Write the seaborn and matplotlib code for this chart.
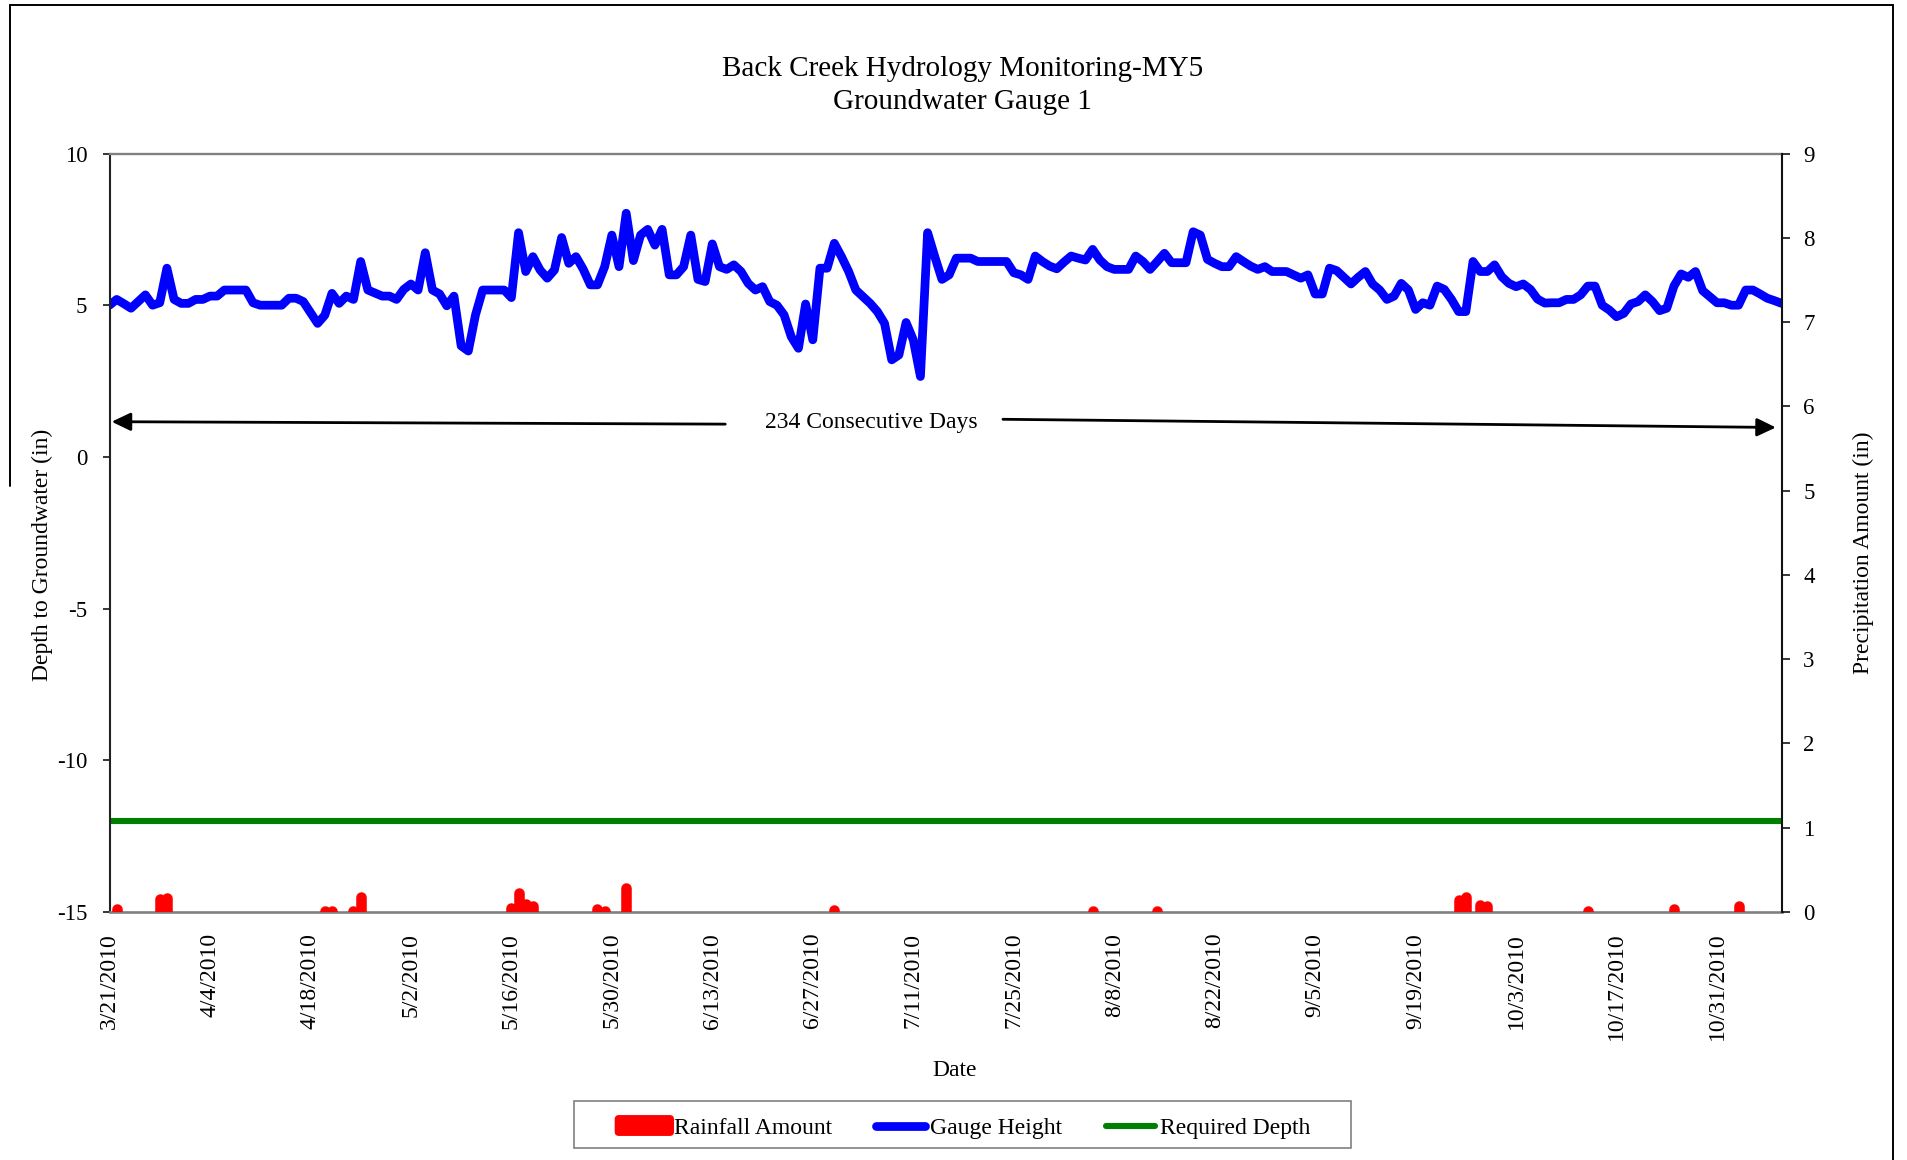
import matplotlib
matplotlib.use("Agg")
import matplotlib.pyplot as plt
import matplotlib.dates as mdates
from matplotlib.lines import Line2D
from matplotlib.patches import Patch, FancyBboxPatch, Rectangle
from matplotlib.legend_handler import HandlerPatch
import pandas as pd
import seaborn as sns

# ---------------- data ----------------
START_DATE = "2010-03-21"

# daily depth to groundwater (in), one reading per day from the start date
gauge_height = [
    5.00, 5.19, 5.05, 4.90, 5.12, 5.34, 5.00, 5.08, 6.22, 5.19,
    5.06, 5.06, 5.19, 5.19, 5.30, 5.30, 5.50, 5.50, 5.50, 5.50,
    5.08, 5.00, 5.00, 5.00, 5.00, 5.23, 5.23, 5.12, 4.76, 4.40,
    4.67, 5.39, 5.06, 5.30, 5.19, 6.44, 5.50, 5.40, 5.30, 5.30,
    5.19, 5.52, 5.70, 5.50, 6.73, 5.50, 5.37, 4.98, 5.30, 3.66,
    3.49, 4.68, 5.50, 5.50, 5.50, 5.50, 5.25, 7.39, 6.11, 6.60,
    6.16, 5.89, 6.16, 7.23, 6.38, 6.60, 6.19, 5.67, 5.67, 6.27,
    7.31, 6.27, 8.03, 6.47, 7.31, 7.50, 6.98, 7.50, 6.00, 6.00,
    6.27, 7.31, 5.85, 5.78, 7.02, 6.27, 6.18, 6.33, 6.11, 5.72,
    5.50, 5.61, 5.12, 5.00, 4.68, 3.96, 3.58, 5.04, 3.86, 6.22,
    6.22, 7.04, 6.60, 6.11, 5.50, 5.28, 5.06, 4.79, 4.40, 3.20,
    3.36, 4.43, 3.86, 2.65, 7.39, 6.60, 5.85, 6.00, 6.55, 6.55,
    6.55, 6.44, 6.44, 6.44, 6.44, 6.44, 6.07, 6.00, 5.85, 6.62,
    6.44, 6.29, 6.20, 6.42, 6.62, 6.55, 6.49, 6.84, 6.49, 6.27,
    6.18, 6.18, 6.18, 6.62, 6.44, 6.18, 6.44, 6.71, 6.40, 6.40,
    6.40, 7.42, 7.31, 6.51, 6.38, 6.27, 6.27, 6.60, 6.44, 6.29,
    6.18, 6.27, 6.11, 6.11, 6.11, 6.00, 5.89, 6.00, 5.37, 5.37,
    6.22, 6.14, 5.92, 5.70, 5.92, 6.11, 5.70, 5.50, 5.19, 5.30,
    5.72, 5.50, 4.86, 5.08, 5.00, 5.63, 5.52, 5.19, 4.79, 4.79,
    6.44, 6.11, 6.11, 6.33, 5.94, 5.72, 5.61, 5.70, 5.52, 5.20,
    5.07, 5.08, 5.08, 5.19, 5.19, 5.34, 5.63, 5.63, 5.00, 4.84,
    4.62, 4.73, 5.04, 5.12, 5.34, 5.12, 4.82, 4.90, 5.63, 6.03,
    5.92, 6.11, 5.48, 5.28, 5.08, 5.08, 5.00, 5.00, 5.50, 5.50,
    5.37, 5.23, 5.15, 5.06,
]

rain_dates = [
    "2010-03-22", "2010-03-28", "2010-03-29", "2010-04-20", "2010-04-21",
    "2010-04-24", "2010-04-25", "2010-05-16", "2010-05-17", "2010-05-18",
    "2010-05-19", "2010-05-28", "2010-05-29", "2010-06-01", "2010-06-30",
    "2010-08-05", "2010-08-14", "2010-09-25", "2010-09-26", "2010-09-28",
    "2010-09-29", "2010-10-13", "2010-10-25", "2010-11-03",
]
rain_amount = [
    0.04, 0.15, 0.17, 0.01, 0.01,
    0.01, 0.18, 0.05, 0.22, 0.09,
    0.07, 0.03, 0.01, 0.28, 0.02,
    0.01, 0.01, 0.14, 0.18, 0.08,
    0.07, 0.01, 0.04, 0.07,
]

REQUIRED_DEPTH = -12

tick_labels = [
    "3/21/2010", "4/4/2010", "4/18/2010", "5/2/2010", "5/16/2010",
    "5/30/2010", "6/13/2010", "6/27/2010", "7/11/2010", "7/25/2010",
    "8/8/2010", "8/22/2010", "9/5/2010", "9/19/2010", "10/3/2010",
    "10/17/2010", "10/31/2010",
]

CONSECUTIVE_DAYS = 234

# ---------------- styling ----------------
BLUE = "#0000FF"
RED = "#FF0000"
GREEN = "#008000"
FONT = ["Liberation Serif", "DejaVu Serif"]

sns.set_theme(style="white")
plt.rcParams["font.family"] = FONT
plt.rcParams["axes.unicode_minus"] = False
for key in ("text.color", "axes.labelcolor", "xtick.color", "ytick.color"):
    plt.rcParams[key] = "black"

W, H = 1907, 1160
fig = plt.figure(figsize=(W / 100, H / 100), dpi=100)
fig.patch.set_facecolor("white")

# plot area in pixel coordinates
px_left, px_right, px_top, px_bottom = 109.5, 1781.6, 153.5, 912.0
ax = fig.add_axes([px_left / W, 1 - px_bottom / H,
                   (px_right - px_left) / W, (px_bottom - px_top) / H])
ax2 = ax.twinx()

gauge_dates = pd.date_range(START_DATE, periods=len(gauge_height), freq="D")
rain_df = pd.DataFrame({"date": pd.to_datetime(rain_dates), "rain": rain_amount})
gauge_df = pd.DataFrame({"date": gauge_dates, "depth": gauge_height})
req_df = pd.DataFrame({"date": [gauge_dates[0], gauge_dates[-1]],
                       "depth": [REQUIRED_DEPTH, REQUIRED_DEPTH]})

# required depth and gauge trace on the left axis
sns.lineplot(data=req_df, x="date", y="depth", ax=ax, color=GREEN,
             linewidth=4.4, legend=False, solid_capstyle="butt")
sns.lineplot(data=gauge_df, x="date", y="depth", ax=ax, color=BLUE,
             linewidth=6.3, legend=False, sort=False,
             solid_joinstyle="round", solid_capstyle="round")

# rainfall on the right axis as thick rounded columns
ax2.vlines(rain_df["date"], 0, rain_df["rain"], colors=RED,
           linewidth=7.6, capstyle="round", zorder=5)

# axes limits and ticks
ax.set_xlim(gauge_dates[0], gauge_dates[-1])
ax.set_ylim(-15, 10)
ax.set_yticks(range(-15, 11, 5))
ax2.set_ylim(0, 9)
ax2.set_yticks(range(0, 10))

tick_dates = pd.date_range(START_DATE, periods=len(tick_labels), freq="14D")
ax.set_xticks(tick_dates)
ax.set_xticklabels(tick_labels, rotation=90, fontsize=17, color="black")
ax.tick_params(axis="x", length=0, pad=15)
ax.tick_params(axis="y", direction="out", length=5, width=1.1, color="black",
               labelsize=16.5, labelcolor="black", pad=11, left=True)
ax2.tick_params(axis="y", direction="out", length=5.5, width=1.1, color="black",
                labelsize=16.5, labelcolor="black", pad=10, right=True)
ax.set_xlabel("")
ax.set_ylabel("")
ax2.set_ylabel("")

for a in (ax, ax2):
    for s in a.spines.values():
        s.set_visible(False)
ax.spines["top"].set_visible(True)
ax.spines["top"].set_color("#808080")
ax.spines["top"].set_linewidth(1.7)
ax.spines["bottom"].set_visible(True)
ax.spines["bottom"].set_color("#808080")
ax.spines["bottom"].set_linewidth(1.9)
ax.spines["left"].set_visible(True)
ax.spines["left"].set_color("#222222")
ax.spines["left"].set_linewidth(1.5)
ax2.spines["right"].set_visible(True)
ax2.spines["right"].set_color("#111111")
ax2.spines["right"].set_linewidth(1.5)
ax.grid(False)
ax2.grid(False)

# span annotation with arrows
start_num = mdates.date2num(gauge_dates[0])
arrow_kw = dict(arrowstyle="-|>,head_length=1.15,head_width=0.55",
                color="black", lw=2.0, shrinkA=0, shrinkB=0, mutation_scale=10)
ax.annotate("", xy=(start_num + 0.3, 1.16), xytext=(start_num + 85.8, 1.08),
            xycoords="data", arrowprops=arrow_kw)
ax.annotate("", xy=(start_num + 232.2, 0.97), xytext=(start_num + 124.5, 1.24),
            xycoords="data", arrowprops=arrow_kw)
ax.text(start_num + 106.2, 1.12, f"{CONSECUTIVE_DAYS} Consecutive Days",
        ha="center", va="center", fontsize=17, color="black")

# titles and axis labels
fig.text(962.6 / W, 1 - 85.5 / H,
         "Back Creek Hydrology Monitoring-MY5\nGroundwater Gauge 1",
         ha="center", va="center", fontsize=21, linespacing=1.38, color="black")
fig.text(42.6 / W, 1 - 554.6 / H, "Depth to Groundwater (in)",
         rotation=90, ha="center", va="center", fontsize=17, color="black")
fig.text(1863 / W, 1 - 552.7 / H, "Precipitation Amount (in)",
         rotation=90, ha="center", va="center", fontsize=17, color="black")
fig.text(954.7 / W, 1 - 1070 / H, "Date", ha="center", va="center",
         fontsize=17, color="black")


# legend
def rounded_patch(legend, orig_handle, xdescent, ydescent, width, height, fontsize):
    return FancyBboxPatch((-xdescent - 3, -ydescent + height / 2 - 7),
                          width + 6, 14,
                          boxstyle="round,pad=0,rounding_size=2.5")


handles = [
    Patch(facecolor=RED, edgecolor=RED),
    Line2D([0], [0], color=BLUE, lw=6.3, solid_capstyle="round"),
    Line2D([0], [0], color=GREEN, lw=4.4, solid_capstyle="round"),
]
labels = ["Rainfall Amount", "Gauge Height", "Required Depth"]
leg = fig.legend(handles, labels, loc="center", ncol=3,
                 bbox_to_anchor=(965 / W, 1 - 1128 / H),
                 bbox_transform=fig.transFigure, frameon=False,
                 fontsize=17, handlelength=2.1, handletextpad=0.2,
                 columnspacing=1.85, borderpad=0.3,
                 handler_map={Patch: HandlerPatch(patch_func=rounded_patch)})
for t in leg.get_texts():
    t.set_color("black")
fig.add_artist(Rectangle((574 / W, 1 - 1148 / H), (1351 - 574) / W, 47 / H,
                         transform=fig.transFigure, fill=False,
                         edgecolor="#808080", linewidth=1.2))

# outer chart border
border_kw = dict(transform=fig.transFigure, color="black", linewidth=1.4)
fig.add_artist(Line2D([10 / W, 1893 / W], [1 - 5 / H, 1 - 5 / H], **border_kw))
fig.add_artist(Line2D([10 / W, 10 / W], [1 - 5 / H, 1 - 486 / H], **border_kw))
fig.add_artist(Line2D([1893 / W, 1893 / W], [1 - 5 / H, 0], **border_kw))

fig.savefig("out.png", dpi=100, facecolor="white")
